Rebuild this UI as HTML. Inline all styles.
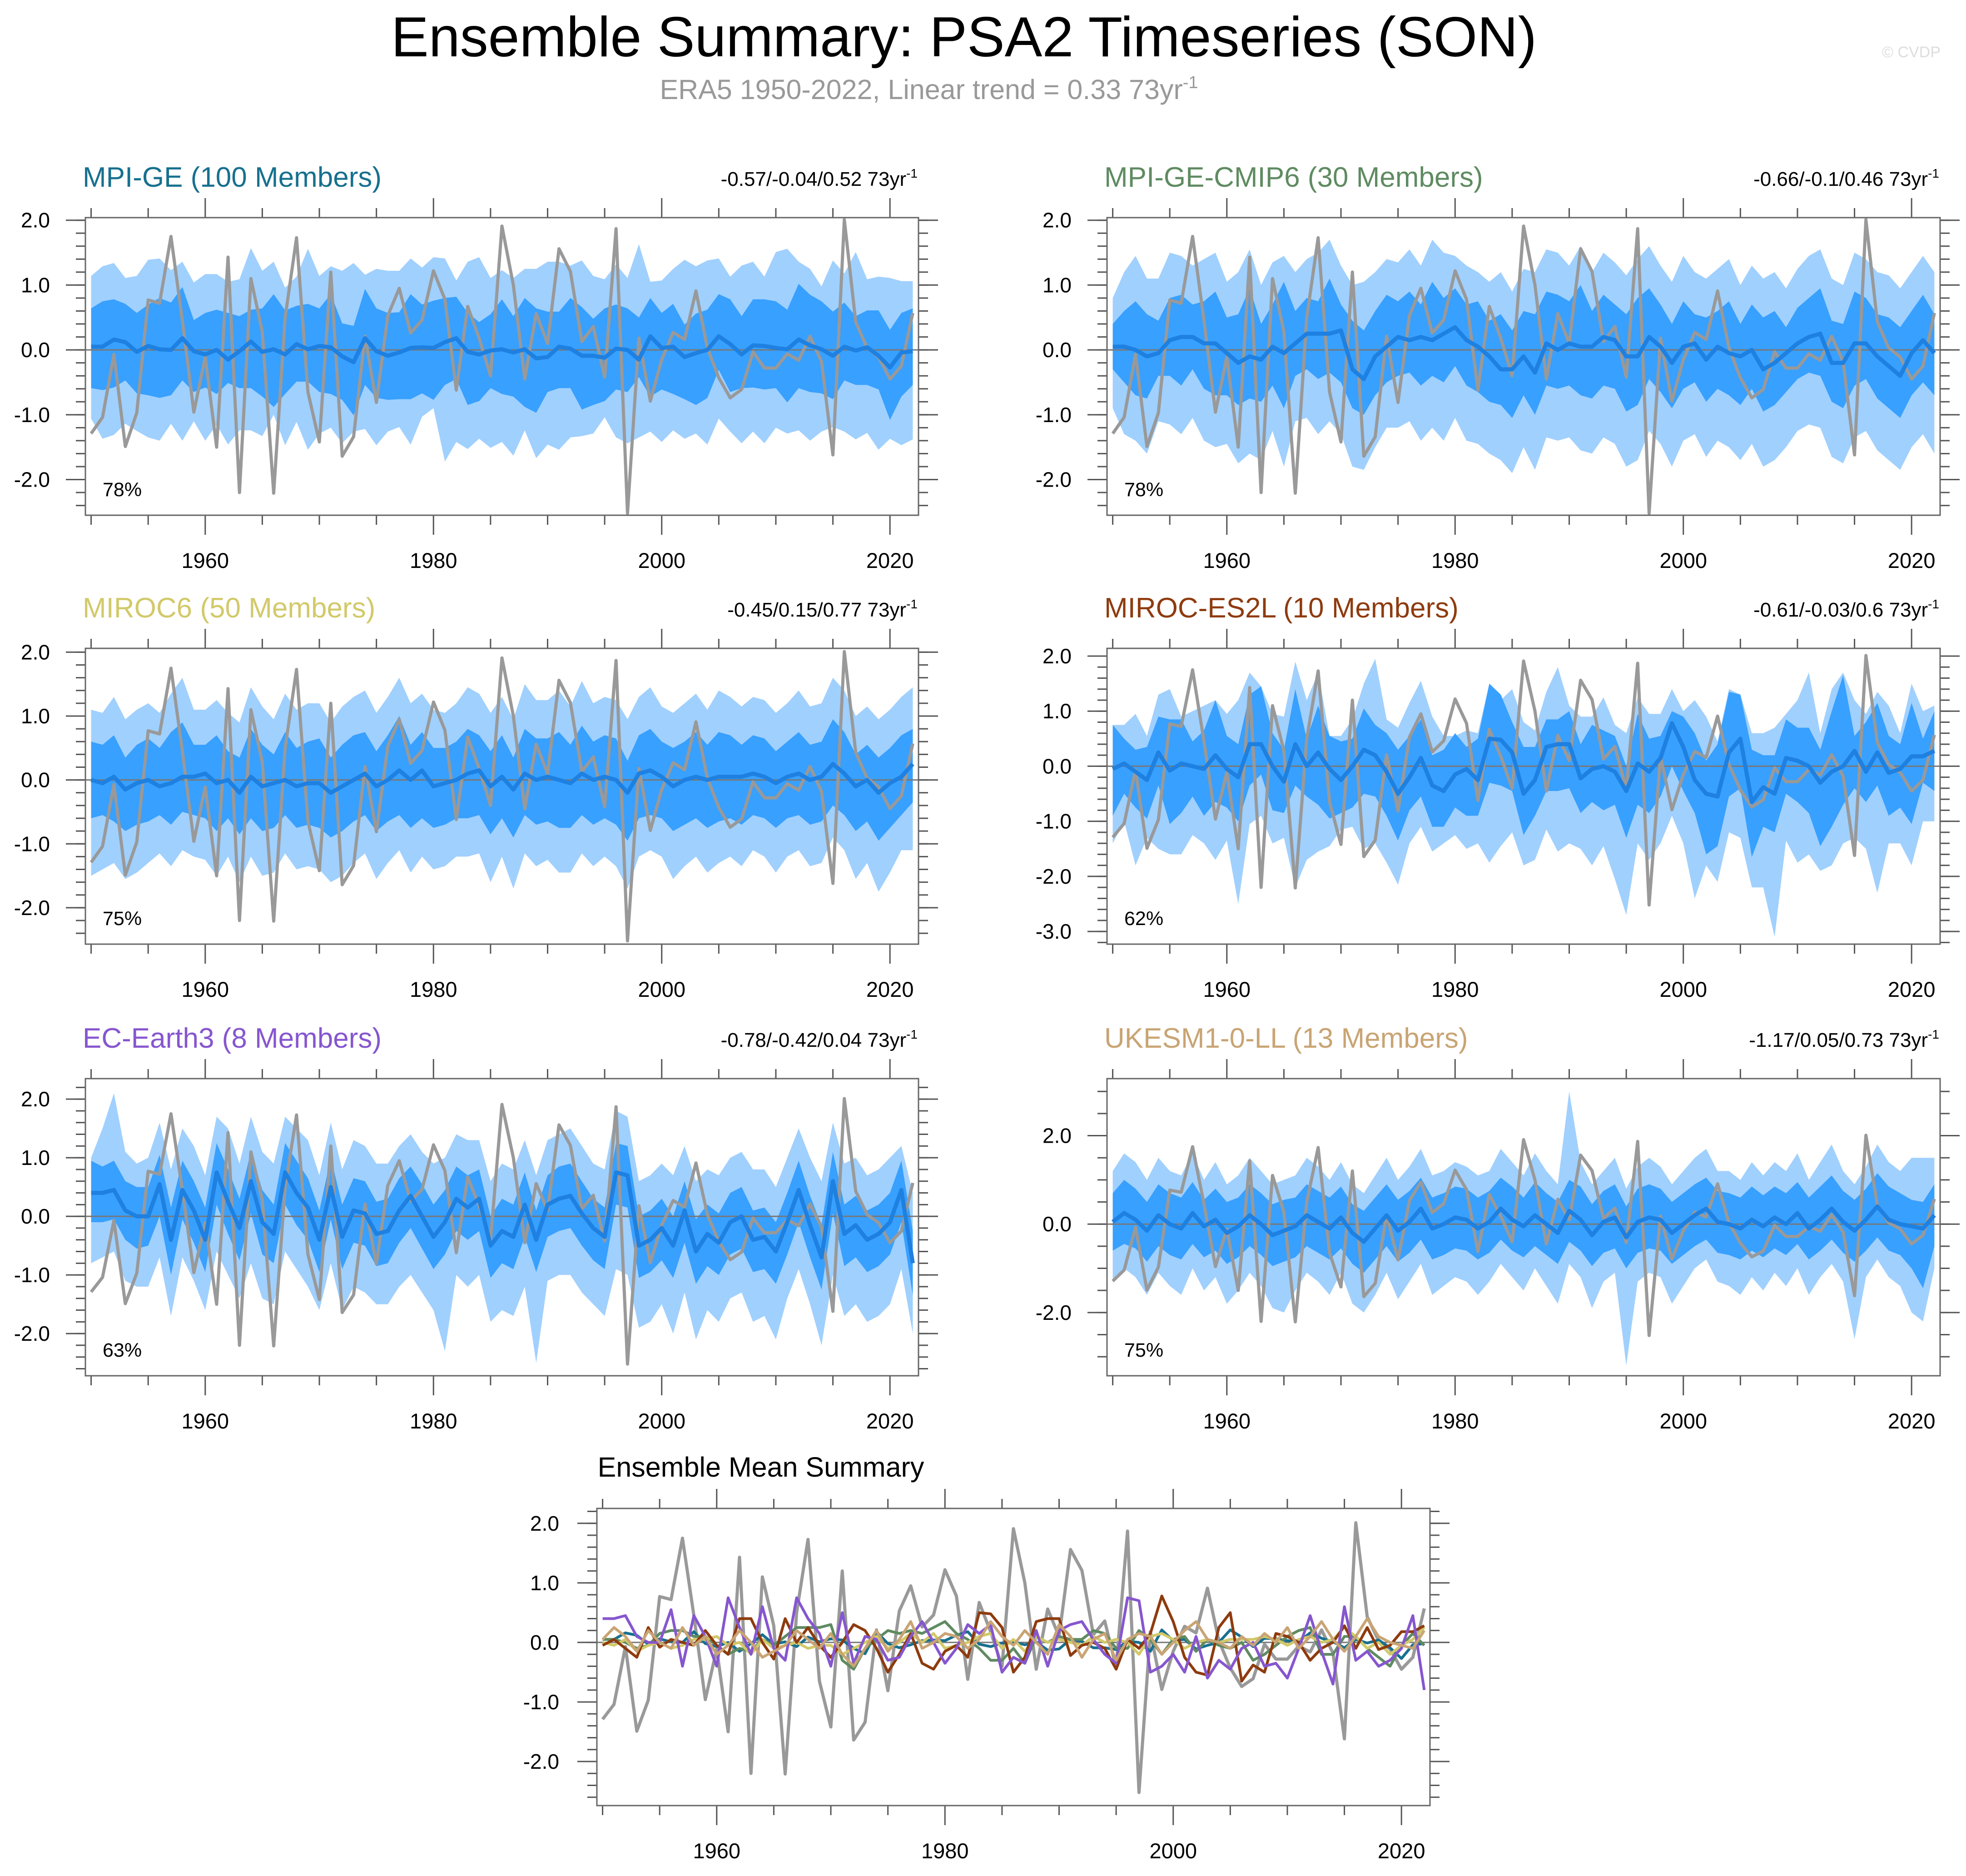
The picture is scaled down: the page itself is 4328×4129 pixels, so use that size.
<!DOCTYPE html>
<html><head><meta charset="utf-8">
<style>
html,body{margin:0;padding:0;background:#fff;}
svg{display:block;font-family:"Liberation Sans",Arial,sans-serif;}
</style></head>
<body>
<svg id="chart" width="4328" height="4129" viewBox="0 0 4328 4129" xmlns="http://www.w3.org/2000/svg">
<text x="2122" y="124" font-size="124" text-anchor="middle" fill="#000">Ensemble Summary: PSA2 Timeseries (SON)</text>
<text x="2045" y="218" font-size="61" text-anchor="middle" fill="#999">ERA5 1950-2022, Linear trend = 0.33 73yr<tspan dy="-24" font-size="38">-1</tspan></text>
<text x="4272" y="126" font-size="34" text-anchor="end" fill="#ddd">© CVDP</text>
</svg>
<script>
const years = [];
for (let y = 1950; y <= 2022; y++) years.push(y);

const era5 = [-1.29,-1.04,-0.07,-1.49,-0.97,0.77,0.72,1.75,0.45,-0.96,
-0.11,-1.50,1.43,-2.20,1.10,0.28,-2.21,0.50,1.73,-0.65,
-1.42,1.20,-1.64,-1.34,0.21,-0.81,0.53,0.95,0.26,0.46,
1.22,0.78,-0.62,0.67,0.18,-0.40,1.91,1.00,-0.45,0.56,
0.10,1.56,1.21,0.13,0.36,-0.42,1.87,-2.52,0.18,-0.79,
-0.15,0.27,0.16,0.91,0.03,-0.43,-0.74,-0.61,-0.03,-0.28,
-0.28,-0.06,-0.16,0.21,-0.18,-1.62,2.01,0.43,0.03,-0.11,
-0.45,-0.25,0.57];

const mean1 = [0.05,0.05,0.16,0.12,-0.03,0.06,0.01,0.00,0.18,-0.02,
-0.07,0.00,-0.15,-0.02,0.13,-0.03,0.01,-0.07,0.09,0.01,
0.06,0.04,-0.10,-0.19,0.18,-0.02,-0.09,-0.04,0.03,0.04,
0.03,0.12,0.18,-0.03,-0.07,-0.01,0.01,-0.04,0.01,-0.13,
-0.11,0.05,0.02,-0.09,-0.09,-0.12,0.02,0.00,-0.15,0.21,
0.03,0.05,-0.11,-0.05,0.00,0.21,0.09,-0.07,0.07,0.06,
0.03,0.01,0.16,0.07,0.01,-0.09,0.05,-0.01,0.04,-0.09,
-0.27,-0.04,-0.02];
const hi1_1 = [0.64,0.75,0.78,0.71,0.57,0.70,0.80,0.73,0.97,0.46,
0.57,0.62,0.57,0.52,0.62,0.64,0.86,0.61,0.68,0.71,
0.64,0.86,0.41,0.37,0.94,0.64,0.57,0.58,0.86,0.70,
0.76,0.80,0.82,0.57,0.43,0.55,0.78,0.52,0.80,0.64,
0.59,0.59,0.80,0.66,0.48,0.64,0.70,0.64,0.50,0.80,
0.57,0.71,0.39,0.56,0.62,0.86,0.78,0.52,0.78,0.78,
0.75,0.62,1.02,0.85,0.75,0.59,0.73,0.52,0.61,0.61,
0.31,0.57,0.64];
const lo1_1 = [-0.59,-0.62,-0.58,-0.47,-0.67,-0.70,-0.74,-0.70,-0.47,-0.65,
-0.58,-0.68,-0.51,-0.59,-0.59,-0.72,-0.88,-0.68,-0.49,-0.49,
-0.65,-0.68,-0.77,-1.01,-0.54,-0.74,-0.77,-0.76,-0.76,-0.67,
-0.77,-0.54,-0.45,-0.85,-0.79,-0.59,-0.68,-0.72,-0.88,-0.97,
-0.65,-0.59,-0.59,-0.92,-0.85,-0.79,-0.61,-0.65,-0.42,-0.72,
-0.61,-0.68,-0.76,-0.85,-0.74,-0.31,-0.65,-0.59,-0.58,-0.61,
-0.59,-0.81,-0.59,-0.65,-0.67,-0.76,-0.47,-0.54,-0.54,-0.61,
-1.08,-0.72,-0.54];
const hi2_1 = [1.14,1.29,1.34,1.11,1.14,1.39,1.41,1.23,1.36,1.04,
1.17,1.17,1.05,1.09,1.57,1.22,1.36,0.96,1.13,1.56,
1.14,1.29,1.22,1.34,1.16,1.25,1.22,1.22,1.41,1.27,
1.43,1.41,1.07,1.36,1.43,1.11,1.23,1.11,1.25,1.25,
1.36,1.36,1.30,1.38,1.14,1.09,1.32,1.11,1.63,1.05,
1.07,1.25,1.39,1.29,1.38,1.41,1.13,1.30,1.36,1.13,
1.51,1.56,1.36,1.25,0.98,1.38,1.18,1.51,1.09,1.13,
1.11,1.06,1.06];
const lo2_1 = [-1.06,-1.37,-1.31,-1.14,-1.25,-1.35,-1.40,-1.14,-1.40,-1.10,
-1.40,-1.15,-1.46,-1.24,-1.24,-1.33,-1.00,-1.47,-1.11,-1.54,
-1.29,-1.20,-1.44,-1.26,-1.22,-1.47,-1.26,-1.19,-1.46,-1.03,
-0.90,-1.72,-1.42,-1.53,-1.37,-1.51,-1.42,-1.63,-1.24,-1.67,
-1.46,-1.54,-1.35,-1.33,-1.29,-1.04,-1.35,-1.44,-1.35,-1.26,
-1.42,-1.24,-1.37,-1.29,-1.46,-1.06,-1.26,-1.44,-1.26,-1.44,
-1.20,-1.29,-1.24,-1.40,-1.26,-1.19,-1.26,-1.38,-1.28,-1.54,
-1.37,-1.47,-1.38];

const mean2 = [0.05,0.05,0.00,-0.10,-0.05,0.15,0.20,0.20,0.10,0.10,
-0.05,-0.20,-0.10,-0.15,0.05,-0.05,0.10,0.25,0.25,0.25,
0.30,-0.30,-0.45,-0.10,0.05,0.20,0.15,0.20,0.15,0.25,
0.35,0.15,0.05,-0.10,-0.30,-0.30,-0.10,-0.35,0.10,0.00,
0.10,0.05,0.05,0.20,0.15,-0.10,-0.10,0.20,0.05,-0.20,
0.05,0.10,-0.15,0.05,-0.05,-0.10,0.00,-0.30,-0.20,-0.05,
0.10,0.20,0.25,-0.20,-0.20,0.10,0.10,-0.10,-0.25,-0.40,
-0.05,0.15,-0.05];
const hi1_2 = [0.40,0.60,0.75,0.55,0.45,0.80,0.85,0.70,0.75,0.90,
0.50,0.55,0.95,0.40,0.70,1.05,0.60,0.80,0.75,1.10,
0.70,0.45,0.30,0.60,0.85,0.75,0.90,0.70,1.05,0.80,
0.95,0.70,0.75,0.45,0.55,0.30,0.60,0.55,0.90,0.85,
0.75,1.00,0.60,0.85,0.70,0.55,0.80,0.95,0.70,0.40,
0.75,0.55,0.50,0.60,0.75,0.40,0.70,0.50,0.60,0.35,
0.65,0.80,0.95,0.45,0.40,0.90,0.80,0.55,0.50,0.35,
0.60,0.85,0.55];
const lo1_2 = [-0.30,-0.50,-0.70,-0.75,-0.40,-0.40,-0.55,-0.30,-0.60,-0.70,
-0.70,-0.85,-0.75,-0.80,-0.55,-0.90,-0.40,-0.30,-0.45,-0.35,
-0.50,-0.90,-1.00,-0.70,-0.50,-0.40,-0.35,-0.55,-0.40,-0.50,
-0.25,-0.55,-0.65,-0.80,-0.85,-1.05,-0.70,-1.00,-0.55,-0.60,
-0.55,-0.70,-0.75,-0.55,-0.60,-0.95,-0.85,-0.45,-0.65,-0.90,
-0.60,-0.50,-0.80,-0.60,-0.70,-0.85,-0.60,-0.95,-0.85,-0.65,
-0.45,-0.35,-0.40,-0.80,-0.90,-0.55,-0.45,-0.75,-0.90,-1.05,
-0.70,-0.50,-0.70];
const hi2_2 = [0.80,1.20,1.45,1.10,1.10,1.50,1.45,1.30,1.40,1.50,
1.05,1.20,1.55,1.00,1.35,1.45,1.20,1.40,1.50,1.70,
1.30,1.00,1.05,1.20,1.40,1.35,1.55,1.30,1.70,1.50,
1.45,1.30,1.20,1.05,1.20,0.90,1.25,1.20,1.55,1.50,
1.30,1.60,1.20,1.50,1.35,1.15,1.40,1.60,1.30,1.05,
1.45,1.20,1.10,1.25,1.40,1.00,1.30,1.10,1.20,0.95,
1.25,1.45,1.55,1.10,1.00,1.50,1.40,1.20,1.15,0.95,
1.20,1.45,1.20];
const lo2_2 = [-0.90,-1.30,-1.40,-1.60,-1.10,-1.15,-1.30,-1.05,-1.40,-1.50,
-1.45,-1.75,-1.60,-1.70,-1.25,-1.80,-1.10,-1.05,-1.30,-1.10,
-1.30,-1.80,-1.85,-1.50,-1.20,-1.20,-1.10,-1.40,-1.20,-1.40,
-1.05,-1.40,-1.45,-1.60,-1.70,-1.90,-1.50,-1.85,-1.35,-1.40,
-1.35,-1.55,-1.60,-1.35,-1.45,-1.80,-1.70,-1.25,-1.45,-1.80,
-1.40,-1.30,-1.65,-1.40,-1.50,-1.70,-1.45,-1.80,-1.70,-1.50,
-1.25,-1.15,-1.20,-1.65,-1.75,-1.35,-1.25,-1.55,-1.70,-1.85,
-1.50,-1.30,-1.60];

const mean3 = [0.00,-0.05,0.05,-0.15,-0.05,0.00,-0.10,-0.05,0.05,0.05,
0.10,-0.05,0.00,-0.20,0.05,-0.10,-0.05,0.00,-0.10,-0.05,
-0.05,-0.20,-0.10,0.00,0.10,-0.10,0.00,0.15,0.00,0.15,
-0.10,-0.05,0.00,0.10,0.15,-0.10,0.05,-0.15,0.10,0.00,
0.05,0.00,-0.05,0.10,0.00,0.05,0.00,-0.20,0.10,0.15,
0.05,-0.10,0.00,0.05,0.00,0.05,0.05,0.05,0.10,0.05,
-0.05,0.05,0.10,0.00,0.05,0.25,0.10,-0.10,0.00,-0.20,
-0.05,0.05,0.25];
const hi1_3 = [0.60,0.55,0.70,0.35,0.55,0.65,0.50,0.75,0.90,0.55,
0.55,0.70,0.45,0.35,0.80,0.55,0.40,0.75,0.50,0.60,
0.65,0.35,0.55,0.70,0.75,0.45,0.70,1.00,0.55,0.75,
0.50,0.50,0.60,0.80,0.70,0.45,0.70,0.35,0.80,0.65,
0.65,0.75,0.55,0.85,0.60,0.70,0.65,0.30,0.70,0.80,
0.60,0.50,0.60,0.75,0.55,0.75,0.70,0.55,0.70,0.65,
0.45,0.60,0.75,0.55,0.60,0.95,0.75,0.40,0.55,0.35,
0.50,0.70,0.80];
const lo1_3 = [-0.60,-0.55,-0.65,-0.80,-0.70,-0.65,-0.55,-0.70,-0.50,-0.55,
-0.60,-0.80,-0.60,-0.85,-0.60,-0.80,-0.75,-0.55,-0.75,-0.70,
-0.75,-0.90,-0.80,-0.65,-0.55,-0.80,-0.65,-0.55,-0.75,-0.60,
-0.75,-0.70,-0.60,-0.60,-0.55,-0.85,-0.60,-0.90,-0.55,-0.70,
-0.65,-0.75,-0.75,-0.55,-0.70,-0.60,-0.70,-0.95,-0.60,-0.55,
-0.60,-0.80,-0.70,-0.60,-0.75,-0.65,-0.60,-0.70,-0.55,-0.60,
-0.75,-0.60,-0.55,-0.70,-0.65,-0.40,-0.55,-0.80,-0.65,-0.95,
-0.75,-0.55,-0.35];
const hi2_3 = [1.10,1.05,1.30,0.95,1.10,1.20,1.05,1.35,1.60,1.10,
1.10,1.25,1.05,0.90,1.45,1.15,0.95,1.35,1.10,1.20,
1.20,0.90,1.15,1.30,1.40,1.05,1.30,1.60,1.20,1.35,
1.10,1.05,1.20,1.45,1.35,1.05,1.30,0.95,1.50,1.25,
1.25,1.40,1.15,1.55,1.20,1.30,1.25,0.95,1.30,1.45,
1.15,1.05,1.20,1.35,1.10,1.40,1.30,1.15,1.30,1.25,
1.05,1.20,1.40,1.15,1.20,1.60,1.40,1.00,1.15,0.95,
1.10,1.30,1.45];
const lo2_3 = [-1.50,-1.40,-1.30,-1.55,-1.45,-1.30,-1.15,-1.35,-1.10,-1.20,
-1.25,-1.50,-1.20,-1.60,-1.20,-1.50,-1.45,-1.15,-1.40,-1.35,
-1.40,-1.60,-1.50,-1.30,-1.15,-1.55,-1.30,-1.10,-1.45,-1.20,
-1.40,-1.35,-1.20,-1.20,-1.15,-1.60,-1.20,-1.70,-1.15,-1.35,
-1.25,-1.45,-1.45,-1.15,-1.35,-1.20,-1.35,-1.70,-1.20,-1.10,
-1.20,-1.55,-1.35,-1.20,-1.45,-1.30,-1.20,-1.35,-1.10,-1.20,
-1.45,-1.20,-1.10,-1.35,-1.30,-0.90,-1.10,-1.55,-1.30,-1.75,
-1.45,-1.10,-1.10];

const mean4 = [-0.05,0.05,-0.10,-0.25,0.25,-0.08,0.05,0.00,-0.05,0.20,
-0.05,-0.20,0.40,0.40,0.00,-0.28,0.40,0.00,0.25,-0.05,
-0.25,0.00,0.30,0.20,-0.10,-0.50,-0.20,0.15,-0.35,-0.45,
-0.15,-0.05,-0.25,0.50,0.48,0.25,-0.50,-0.25,0.35,0.40,
0.40,-0.22,-0.05,0.00,-0.10,-0.45,0.05,-0.10,0.15,0.78,
0.35,-0.25,-0.50,-0.55,0.25,0.50,-0.65,-0.38,-0.50,0.15,
0.10,0.00,-0.30,-0.10,0.00,0.28,-0.10,0.25,-0.12,-0.05,
0.18,0.18,0.28];
const hi1_4 = [0.75,0.50,0.30,0.35,0.90,0.85,0.85,0.45,0.65,1.20,
0.55,0.40,1.30,1.45,0.60,0.30,1.40,0.50,1.10,0.55,
0.45,0.50,1.05,0.75,0.60,0.30,0.55,0.85,0.20,0.30,
0.60,0.35,0.50,1.50,1.30,0.80,0.35,0.35,0.85,0.85,
1.00,0.40,0.75,0.65,0.55,0.00,0.95,0.50,0.55,1.00,
0.90,0.60,0.10,0.40,1.35,1.30,0.30,0.20,0.20,0.85,
0.70,0.70,0.30,1.00,1.65,0.55,0.80,1.15,0.55,0.40,
1.15,0.50,1.00];
const lo1_4 = [-0.90,-0.50,-0.75,-0.95,-0.35,-1.05,-0.85,-0.55,-0.90,-0.65,
-0.75,-1.00,-0.35,-0.15,-0.80,-0.85,-0.35,-0.55,-0.70,-0.95,
-0.85,-0.75,-0.50,-0.55,-0.90,-1.35,-0.80,-0.55,-1.10,-1.10,
-0.75,-0.90,-0.90,-0.30,-0.35,-0.45,-1.25,-0.90,-0.45,-0.45,
-0.40,-0.85,-0.65,-0.80,-0.70,-1.30,-0.70,-0.85,-0.55,0.00,
-0.45,-0.85,-1.60,-1.45,-0.55,-0.40,-1.65,-1.10,-1.20,-0.50,
-0.65,-0.85,-1.45,-1.10,-0.70,-0.40,-0.65,-0.35,-0.90,-0.75,
-1.05,-0.30,-0.45];
const hi2_4 = [0.75,0.75,0.95,0.55,1.30,1.40,0.90,1.00,1.10,1.20,
0.95,1.20,1.70,1.45,0.95,0.90,1.90,1.20,1.70,0.55,
0.55,0.85,1.50,1.95,0.85,0.70,1.15,1.55,0.90,0.55,
0.55,0.65,0.60,1.50,1.20,1.40,0.80,0.65,1.35,1.80,
1.10,0.90,0.90,1.25,0.75,0.60,1.25,0.95,0.95,1.40,
1.00,1.20,0.90,0.45,1.40,1.30,0.60,0.60,0.70,0.95,
1.20,1.70,0.60,1.40,1.70,1.20,0.95,1.35,1.10,0.60,
1.50,1.00,1.10];
const lo2_4 = [-1.40,-1.00,-1.80,-1.30,-1.50,-1.60,-1.60,-1.25,-1.40,-1.70,
-1.35,-2.50,-1.05,-0.90,-1.40,-1.30,-2.20,-1.70,-1.55,-1.45,
-1.15,-1.10,-1.50,-1.40,-1.75,-2.15,-1.40,-1.10,-1.55,-1.40,
-1.25,-1.50,-1.40,-1.75,-1.45,-1.20,-1.80,-1.70,-1.15,-1.55,
-1.40,-1.50,-1.80,-1.45,-2.05,-2.70,-1.40,-1.70,-1.40,-0.90,
-1.40,-2.40,-1.80,-2.10,-1.20,-1.30,-2.20,-2.20,-3.10,-1.35,
-1.75,-1.60,-1.90,-1.80,-1.40,-1.30,-1.50,-2.30,-1.40,-1.40,
-1.80,-1.00,-1.00];

const mean5 = [0.40,0.40,0.45,0.10,0.00,0.00,0.55,-0.40,0.45,0.10,
-0.40,0.75,0.25,-0.20,0.60,-0.10,-0.30,0.75,0.40,0.15,
-0.40,0.50,-0.35,0.10,0.05,-0.30,-0.25,0.10,0.35,0.00,
-0.35,-0.10,0.30,0.15,0.30,-0.50,-0.25,-0.35,0.20,-0.40,
0.20,0.30,0.35,0.05,-0.20,-0.35,0.75,0.70,-0.50,-0.40,
-0.20,-0.50,0.10,-0.60,-0.30,-0.45,-0.10,0.00,-0.40,-0.35,
-0.60,-0.10,0.45,-0.15,-0.70,0.60,-0.30,-0.15,-0.40,-0.30,
-0.10,0.45,-0.80];
const hi1_5 = [0.95,0.85,0.95,0.60,0.50,0.50,1.05,0.15,0.95,0.60,
0.15,1.25,0.80,0.30,1.10,0.45,0.20,1.25,0.95,0.65,
0.10,1.00,0.20,0.65,0.60,0.25,0.30,0.65,0.85,0.55,
0.20,0.45,0.85,0.70,0.80,0.00,0.30,0.20,0.75,0.10,
0.70,0.85,0.90,0.60,0.30,0.15,1.25,1.20,0.00,0.10,
0.30,0.00,0.60,-0.05,0.20,0.05,0.40,0.50,0.10,0.15,
-0.10,0.40,0.95,0.35,-0.15,1.10,0.20,0.35,0.10,0.20,
0.40,0.95,-0.25];
const lo1_5 = [-0.10,-0.10,-0.05,-0.40,-0.55,-0.50,0.00,-1.00,-0.05,-0.45,
-0.95,0.20,-0.30,-0.75,0.05,-0.65,-0.80,0.20,-0.15,-0.40,
-0.95,-0.05,-0.90,-0.45,-0.50,-0.85,-0.80,-0.45,-0.20,-0.55,
-0.90,-0.65,-0.25,-0.40,-0.25,-1.05,-0.80,-0.90,-0.35,-0.95,
-0.35,-0.25,-0.20,-0.50,-0.75,-0.90,0.20,0.15,-1.05,-0.95,
-0.75,-1.05,-0.45,-1.15,-0.85,-1.00,-0.65,-0.55,-0.95,-0.90,
-1.15,-0.65,-0.10,-0.70,-1.25,0.05,-0.85,-0.70,-0.95,-0.85,
-0.65,-0.10,-1.35];
const hi2_5 = [1.00,1.50,2.10,1.10,0.90,1.00,1.60,0.80,1.50,1.20,
0.70,1.70,1.50,0.90,1.70,1.10,0.90,1.70,1.50,1.30,
0.70,1.60,0.80,1.30,1.20,0.90,0.90,1.20,1.40,1.10,
0.90,1.00,1.40,1.30,1.30,0.60,0.90,0.80,1.30,0.70,
1.30,1.40,1.50,1.20,0.90,0.80,1.80,1.70,0.60,0.70,
0.90,0.70,1.20,0.60,0.80,0.70,1.00,1.10,0.80,0.80,
0.50,1.00,1.50,1.00,0.60,1.60,0.90,1.00,0.70,0.80,
1.00,1.20,0.40];
const lo2_5 = [-0.80,-0.70,-0.60,-1.10,-1.20,-1.20,-0.70,-1.70,-0.70,-1.10,
-1.60,-0.60,-1.00,-1.40,-0.80,-1.40,-1.50,-0.60,-0.90,-1.20,
-1.60,-0.80,-1.60,-1.20,-1.30,-1.50,-1.50,-1.20,-1.00,-1.30,
-1.60,-2.30,-1.00,-1.20,-1.00,-1.80,-1.60,-1.70,-1.20,-2.50,
-1.10,-1.00,-1.00,-1.30,-1.50,-1.70,-0.90,-1.00,-1.90,-1.80,
-1.50,-2.00,-1.30,-2.10,-1.60,-1.80,-1.40,-1.30,-1.80,-1.70,
-2.10,-1.40,-0.90,-1.50,-2.20,-1.00,-1.70,-1.50,-1.80,-1.70,
-1.50,-0.90,-2.00];

const mean6 = [0.05,0.25,0.10,-0.15,0.20,0.00,-0.10,0.25,-0.05,0.10,
-0.20,-0.05,0.20,0.00,-0.25,-0.15,-0.05,0.20,0.05,-0.10,
0.15,-0.20,-0.40,-0.10,0.20,-0.15,0.05,0.35,-0.10,0.00,
0.15,0.10,-0.10,0.05,0.35,0.10,-0.05,0.20,0.00,-0.20,
0.30,0.10,-0.25,0.05,0.15,-0.30,0.05,0.15,0.10,-0.20,
0.00,0.20,0.35,0.05,0.00,-0.10,0.10,-0.05,0.15,0.00,
0.25,-0.10,0.10,0.35,0.05,-0.15,0.10,0.40,0.10,0.00,
-0.05,-0.10,0.20];
const hi1_6 = [0.70,1.00,0.80,0.50,0.90,0.70,0.60,0.95,0.55,0.80,
0.50,0.60,0.90,0.70,0.45,0.55,0.60,0.90,0.75,0.60,
0.85,0.45,0.30,0.60,0.90,0.55,0.75,1.05,0.60,0.70,
0.85,0.80,0.60,0.75,1.05,0.85,0.60,0.95,0.70,0.50,
1.00,0.85,0.45,0.75,0.90,0.40,0.80,0.90,0.80,0.50,
0.70,0.90,1.05,0.75,0.70,0.60,0.85,0.65,0.85,0.70,
0.95,0.60,0.85,1.10,0.75,0.55,0.80,1.15,0.85,0.70,
0.55,0.50,0.90];
const lo1_6 = [-0.60,-0.45,-0.55,-0.85,-0.50,-0.70,-0.80,-0.45,-0.75,-0.60,
-0.90,-0.75,-0.50,-0.70,-0.95,-0.85,-0.75,-0.50,-0.65,-0.80,
-0.55,-0.90,-1.10,-0.80,-0.50,-0.85,-0.65,-0.35,-0.80,-0.70,
-0.55,-0.60,-0.80,-0.65,-0.35,-0.60,-0.75,-0.50,-0.70,-0.90,
-0.40,-0.60,-0.95,-0.65,-0.55,-1.00,-0.65,-0.55,-0.60,-0.90,
-0.70,-0.50,-0.35,-0.65,-0.70,-0.80,-0.60,-0.75,-0.55,-0.70,
-0.45,-0.80,-0.60,-0.35,-0.65,-0.85,-0.60,-0.30,-0.60,-0.70,
-1.00,-1.45,-0.50];
const hi2_6 = [1.20,1.60,1.40,1.00,1.50,1.20,1.10,1.60,1.00,1.40,
0.90,1.10,1.50,1.20,0.90,1.00,1.10,1.50,1.30,1.00,
1.40,0.90,0.70,1.10,1.50,1.00,1.30,1.70,1.10,1.20,
1.40,1.30,1.10,1.20,1.70,1.40,1.10,1.60,1.20,0.90,
3.00,1.40,0.90,1.20,1.50,0.80,1.30,1.50,1.30,0.90,
1.20,1.50,1.70,1.20,1.20,1.00,1.40,1.10,1.40,1.20,
1.60,1.00,1.40,1.80,1.20,0.90,1.30,1.80,1.40,1.20,
1.50,1.50,1.50];
const lo2_6 = [-1.30,-1.00,-1.20,-1.60,-1.10,-1.40,-1.60,-1.00,-1.50,-1.20,
-1.80,-1.50,-1.10,-1.40,-1.90,-2.00,-1.50,-1.10,-1.30,-1.60,
-1.10,-1.80,-2.00,-1.60,-1.10,-1.70,-1.30,-0.90,-1.60,-1.40,
-1.20,-1.30,-1.60,-1.30,-0.90,-1.20,-1.50,-1.00,-1.40,-1.80,
-0.90,-1.20,-1.90,-1.30,-1.10,-3.20,-1.30,-1.10,-1.20,-1.80,
-1.40,-1.00,-0.80,-1.30,-1.40,-1.60,-1.20,-1.50,-1.10,-1.40,
-1.00,-1.60,-1.20,-0.90,-1.30,-2.60,-1.20,-0.80,-1.20,-1.40,
-2.00,-2.20,-1.00];

const modelNames = ["MPI-GE (100 Members)","MPI-GE-CMIP6 (30 Members)","MIROC6 (50 Members)","MIROC-ES2L (10 Members)","EC-Earth3 (8 Members)","UKESM1-0-LL (13 Members)"];
const trendLabels = ["-0.57/-0.04/0.52 73yr","-0.66/-0.1/0.46 73yr","-0.45/0.15/0.77 73yr","-0.61/-0.03/0.6 73yr","-0.78/-0.42/0.04 73yr","-1.17/0.05/0.73 73yr"];
const percentLabels = ["78%","78%","75%","62%","63%","75%"];
const xTickLabels = [1960,1980,2000,2020];
const yTicks1 = [2,1,0,-1,-2];
const yTicks4 = [2,1,0,-1,-2,-3];
const yTicks6 = [2,0,-2];

const modelColors = ["#17708f","#5f8b61","#d2c96a","#8e3b0e","#8656cf","#c9a474"];
const NS = "http://www.w3.org/2000/svg";
const svg = document.getElementById("chart");

function el(tag, attrs, parent) {
  const e = document.createElementNS(NS, tag);
  for (const k in attrs) e.setAttribute(k, attrs[k]);
  (parent || svg).appendChild(e);
  return e;
}

const colX = [188, 2437];
const rowY = [[479,1134],[1427,2078],[2374,3028]];
const panels = [
  {mean:mean1,hi1:hi1_1,lo1:lo1_1,hi2:hi2_1,lo2:lo2_1,ymin:-2.55,ymax:2.04,ticks:yTicks1,minor:0.2},
  {mean:mean2,hi1:hi1_2,lo1:lo1_2,hi2:hi2_2,lo2:lo2_2,ymin:-2.55,ymax:2.04,ticks:yTicks1,minor:0.2},
  {mean:mean3,hi1:hi1_3,lo1:lo1_3,hi2:hi2_3,lo2:lo2_3,ymin:-2.57,ymax:2.06,ticks:yTicks1,minor:0.2},
  {mean:mean4,hi1:hi1_4,lo1:lo1_4,hi2:hi2_4,lo2:lo2_4,ymin:-3.23,ymax:2.14,ticks:yTicks4,minor:0.2},
  {mean:mean5,hi1:hi1_5,lo1:lo1_5,hi2:hi2_5,lo2:lo2_5,ymin:-2.72,ymax:2.35,ticks:yTicks1,minor:0.2},
  {mean:mean6,hi1:hi1_6,lo1:lo1_6,hi2:hi2_6,lo2:lo2_6,ymin:-3.43,ymax:3.29,ticks:yTicks6,minor:0.5}
];

function makeAxes(x0, x1, y0, y1, ymin, ymax) {
  const xs = yr => x0 + (yr - 1949.5) / 73.0 * (x1 - x0);
  const ys = v => y1 - (v - ymin) / (ymax - ymin) * (y1 - y0);
  return {xs, ys};
}

function drawFrameTicks(g, x0, x1, y0, y1, ymin, ymax, ticks, minor, xs, ys, labelRight) {
  const tc = "#555";
  for (let yr = 1950; yr <= 2022; yr += 5) {
    const major = (yr % 20 === 0);
    const L = major ? 43 : 21;
    const x = xs(yr);
    el("line", {x1:x, y1:y1, x2:x, y2:y1+L, stroke:tc, "stroke-width":3}, g);
    el("line", {x1:x, y1:y0, x2:x, y2:y0-L, stroke:tc, "stroke-width":3}, g);
  }
  const start = Math.ceil(ymin / minor) * minor;
  for (let v = start; v <= ymax + 1e-9; v += minor) {
    const y = ys(v);
    el("line", {x1:x0, y1:y, x2:x0-21, y2:y, stroke:tc, "stroke-width":3}, g);
    el("line", {x1:x1, y1:y, x2:x1+21, y2:y, stroke:tc, "stroke-width":3}, g);
  }
  ticks.forEach(v => {
    const y = ys(v);
    el("line", {x1:x0, y1:y, x2:x0-43, y2:y, stroke:tc, "stroke-width":3}, g);
    el("line", {x1:x1, y1:y, x2:x1+43, y2:y, stroke:tc, "stroke-width":3}, g);
    const t = el("text", {x:labelRight, y:y+16, "font-size":46, "text-anchor":"end", fill:"#000"}, g);
    
    
    t.textContent = v.toFixed(1);
  });
  xTickLabels.forEach(yr => {
    const t = el("text", {x:xs(yr), y:y1+116, "font-size":47, "text-anchor":"middle", fill:"#000"}, g);
    
    
    t.textContent = yr;
  });
  const fr = el("rect", {x:x0, y:y0, width:x1-x0, height:y1-y0, fill:"none", stroke:"#666", "stroke-width":3}, g);
  
  
}

function linePath(arr, xs, ys) {
  return arr.map((v,i) => (i ? "L" : "M") + xs(years[i]).toFixed(1) + "," + ys(v).toFixed(1)).join("");
}
function bandPath(hi, lo, xs, ys) {
  let d = hi.map((v,i) => (i ? "L" : "M") + xs(years[i]).toFixed(1) + "," + ys(v).toFixed(1)).join("");
  for (let i = lo.length - 1; i >= 0; i--) d += "L" + xs(years[i]).toFixed(1) + "," + ys(lo[i]).toFixed(1);
  return d + "Z";
}

panels.forEach((p, k) => {
  const col = k % 2, row = Math.floor(k / 2);
  const x0 = colX[col], x1 = x0 + 1834, y0 = rowY[row][0], y1 = rowY[row][1];
  const {xs, ys} = makeAxes(x0, x1, y0, y1, p.ymin, p.ymax);
  const g = el("g", {});
  
  

  const b2 = el("path", {d:bandPath(p.hi2, p.lo2, xs, ys), fill:"#a0d0fe"}, g);
  
  
  const b1 = el("path", {d:bandPath(p.hi1, p.lo1, xs, ys), fill:"#38a0ff"}, g);
  
  
  const z = el("line", {x1:x0, x2:x1, y1:ys(0), y2:ys(0), stroke:"#777", "stroke-width":3}, g);
  
  
  const obs = el("path", {d:linePath(era5, xs, ys), fill:"none", stroke:"#999", "stroke-width":7, "stroke-linejoin":"round"}, g);
  
  
  const m = el("path", {d:linePath(p.mean, xs, ys), fill:"none", stroke:"#1e80e0", "stroke-width":9, "stroke-linejoin":"round"}, g);
  
  

  drawFrameTicks(g, x0, x1, y0, y1, p.ymin, p.ymax, p.ticks, p.minor, xs, ys, x0 - 78);

  const title = el("text", {x:x0 - 6, y:y0 - 68, "font-size":62, fill:modelColors[k]}, g);
  
  
  title.textContent = modelNames[k];
  const tr = el("text", {x:x1 - 2, y:y0 - 70, "font-size":44, "text-anchor":"end", fill:"#000"}, g);
  
  
  tr.textContent = trendLabels[k];
  const sup = el("tspan", {dy:-18, "font-size":28}, tr);
  sup.textContent = "-1";
  const pc = el("text", {x:x0 + 38, y:y1 - 42, "font-size":43, fill:"#000"}, g);
  
  
  pc.textContent = percentLabels[k];
});

(function(){
  const x0 = 1314, x1 = 3148, y0 = 3320, y1 = 3974, ymin = -2.74, ymax = 2.25;
  const {xs, ys} = makeAxes(x0, x1, y0, y1, ymin, ymax);
  const g = el("g", {});
  
  
  const z = el("line", {x1:x0, x2:x1, y1:ys(0), y2:ys(0), stroke:"#777", "stroke-width":3}, g);
  
  
  const obs = el("path", {d:linePath(era5, xs, ys), fill:"none", stroke:"#999", "stroke-width":7, "stroke-linejoin":"round"}, g);
  
  
  panels.forEach((p, k) => {
    const l = el("path", {d:linePath(p.mean, xs, ys), fill:"none", stroke:modelColors[k], "stroke-width":6, "stroke-linejoin":"round"}, g);
    
    
  });
  drawFrameTicks(g, x0, x1, y0, y1, ymin, ymax, yTicks1, 0.2, xs, ys, x0 - 83);
  const t = el("text", {x:1675, y:3250, "font-size":61, "text-anchor":"middle", fill:"#000"}, g);
  
  
  t.textContent = "Ensemble Mean Summary";
})();
</script>
</body></html>
